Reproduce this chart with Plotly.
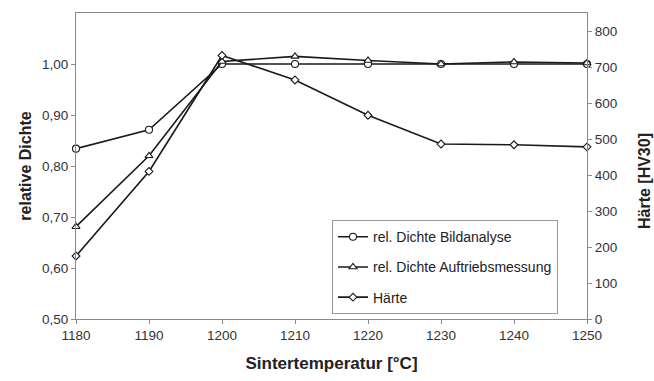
import plotly.graph_objects as go

# Sintering temperatures [°C]
temperatur = [1180, 1190, 1200, 1210, 1220, 1230, 1240, 1250]

# Relative density from image analysis
dichte_bild = [0.834, 0.871, 1.000, 1.000, 1.000, 1.000, 1.000, 1.000]
# Relative density from buoyancy measurement
dichte_auftrieb = [0.681, 0.820, 1.005, 1.015, 1.007, 1.000, 1.004, 1.002]
# Hardness HV30
haerte = [175, 410, 732, 664, 566, 486, 484, 478]

left_ticks = [0.5, 0.6, 0.7, 0.8, 0.9, 1.0]
right_ticks = [0, 100, 200, 300, 400, 500, 600, 700, 800]
x_ticks = temperatur

FONT = "Liberation Sans, Arial, sans-serif"
AXIS_GREY = "#8a8a8a"
LINE = "#1a1a1a"
TICK_FONT = dict(family=FONT, size=13.5, color="#333333")

fig = go.Figure()

fig.add_trace(go.Scatter(
    x=temperatur, y=dichte_bild, name="rel. Dichte Bildanalyse",
    mode="lines+markers", cliponaxis=False, legendgroup="a",
    line=dict(color=LINE, width=1.6),
    marker=dict(symbol="circle", size=7, color="white",
                line=dict(color=LINE, width=1.1)),
))
fig.add_trace(go.Scatter(
    x=temperatur, y=dichte_auftrieb, name="rel. Dichte Auftriebsmessung",
    mode="lines+markers", cliponaxis=False, legendgroup="b",
    line=dict(color=LINE, width=1.6),
    marker=dict(symbol="triangle-up", size=7, color="white",
                line=dict(color=LINE, width=1.1)),
))
fig.add_trace(go.Scatter(
    x=temperatur, y=haerte, name="Härte", yaxis="y2",
    mode="lines+markers", cliponaxis=False, legendgroup="c",
    line=dict(color=LINE, width=1.6),
    marker=dict(symbol="diamond", size=6, color="white",
                line=dict(color=LINE, width=1.1)),
))

fig.update_layout(
    width=654, height=381,
    margin=dict(l=76, r=67, t=12, b=59),
    paper_bgcolor="white", plot_bgcolor="white",
    separators=",.",
    font=dict(family=FONT, size=13.5, color="#333333"),
    showlegend=True,
    legend=dict(
        x=0.501, y=0.323, xanchor="left", yanchor="top",
        bgcolor="white", bordercolor="#9a9a9a", borderwidth=1,
        font=dict(family=FONT, size=14, color="#222222"),
        traceorder="grouped", tracegroupgap=9, itemwidth=30,
    ),
    xaxis=dict(
        range=[1180, 1250], tickvals=x_ticks, showgrid=False, zeroline=False,
        showline=True, linecolor=AXIS_GREY, linewidth=1, mirror=True,
        ticks="outside", ticklen=4, tickcolor=AXIS_GREY,
        tickfont=TICK_FONT,
        title=dict(text="<b>Sintertemperatur [°C]</b>",
                   font=dict(family=FONT, size=17, color="#222222"), standoff=14),
    ),
    yaxis=dict(
        range=[0.5, 1.1], tickvals=left_ticks, tickformat=".2f",
        showgrid=False, zeroline=False,
        showline=True, linecolor=AXIS_GREY, linewidth=1,
        ticks="outside", ticklen=4, tickcolor=AXIS_GREY,
        tickfont=TICK_FONT,
        title=dict(text="<b>relative Dichte</b>",
                   font=dict(family=FONT, size=16, color="#222222"), standoff=6),
    ),
    yaxis2=dict(
        range=[0, 850], tickvals=right_ticks, overlaying="y", side="right",
        showgrid=False, zeroline=False,
        showline=True, linecolor=AXIS_GREY, linewidth=1,
        ticks="outside", ticklen=4, tickcolor=AXIS_GREY,
        tickfont=TICK_FONT,
    ),
    annotations=[dict(
        text="<b>Härte [HV30]</b>", textangle=-90,
        xref="paper", yref="paper", x=1.113, y=0.45,
        xanchor="center", yanchor="middle", showarrow=False,
        font=dict(family=FONT, size=16, color="#222222"),
    )],
)

fig.write_html("out.html")
